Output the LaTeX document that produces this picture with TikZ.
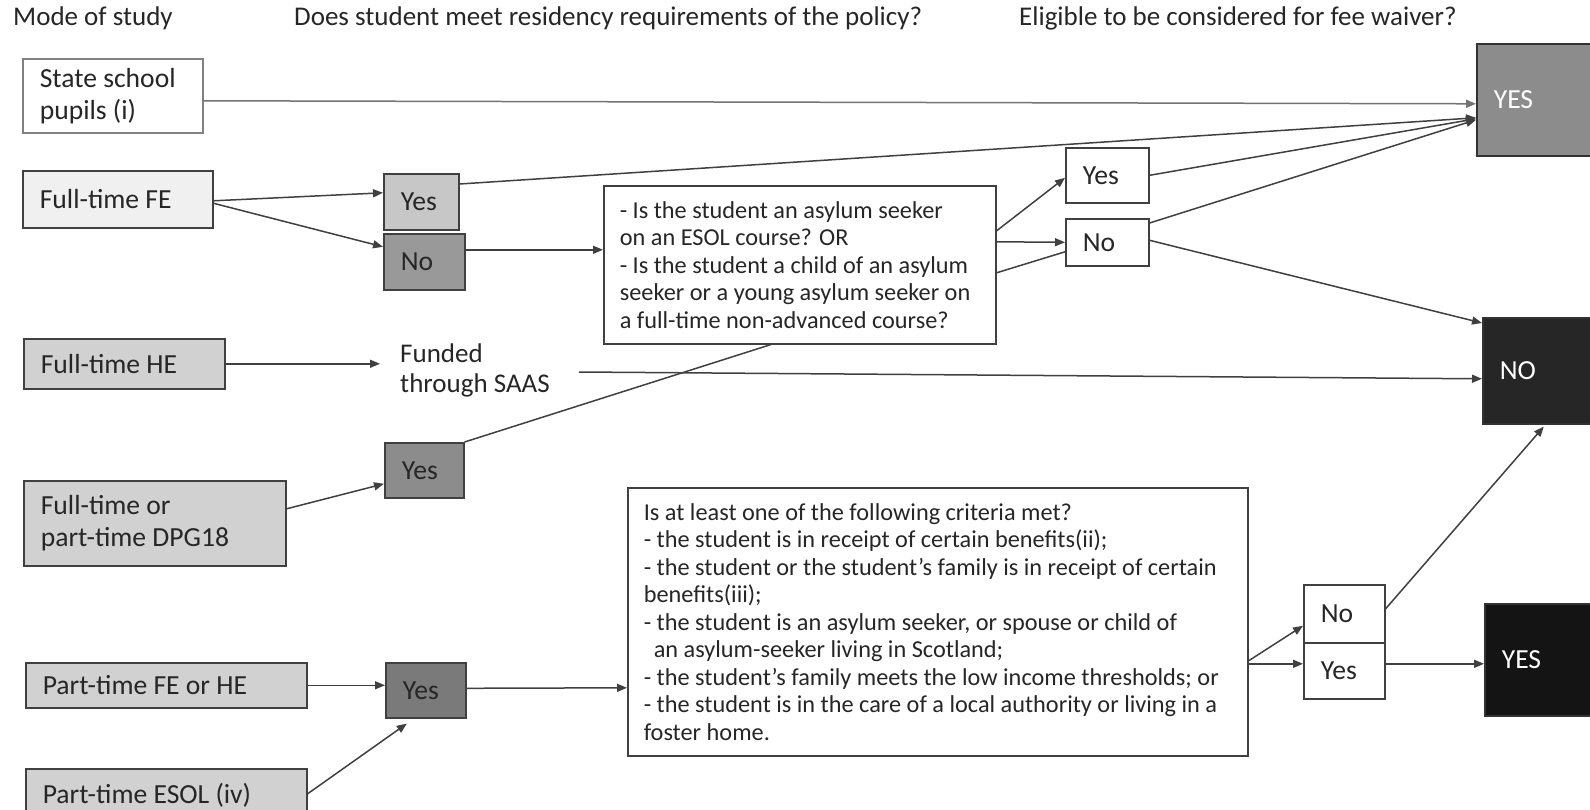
\documentclass[tikz,border=0pt]{standalone}
\usepackage{fontspec}
\setmainfont{Carlito}
\usetikzlibrary{calc,arrows.meta}
\newcommand{\qfnt}{\fontsize{24.3}{27.5}\selectfont}
\newcommand{\bfnt}{\fontsize{27.6}{32}\selectfont}
\newcommand{\hfnt}{\fontsize{27}{32}\selectfont}
\begin{document}
\begin{tikzpicture}[x=1pt,y=-1pt,
  every node/.style={text=black!85},
  bx/.style={draw=black!75, line width=1.6pt, anchor=north west, inner xsep=17pt, inner ysep=0pt, align=flush left, font=\bfnt},
  qbx/.style={bx, fill=white, inner xsep=16pt, font=\qfnt},
  dark/.style={bx, draw=black!80, text=white},
  hdr/.style={anchor=west, inner sep=0pt, font=\hfnt},
  ln/.style={draw=black!75, line width=1.5pt},
  arr/.style={ln, -{Triangle[length=10pt,width=8pt]}}
]
\useasboundingbox (0,0) rectangle (1590,810);
\clip (0,0) rectangle (1590,810);
\fill[white] (0,0) rectangle (1590,810);

% headers
\node[hdr] (h1) at (13,18) {Mode of study};
\node[hdr] (h2) at (294,18) {Does student meet residency requirements of the policy?};
\node[hdr] (h3) at (1019,18) {Eligible to be considered for fee waiver?};

% mode of study boxes
\node[bx, fill=white, draw=black!50, text width=146pt, minimum height=74pt] (ss) at (22,58) {State school\\pupils (i)};
\node[bx, fill=black!6, text width=156pt, minimum height=57pt] (ftfe) at (22,170) {Full-time FE};
\node[bx, fill=black!18, text width=167pt, minimum height=50pt] (fthe) at (23,338) {Full-time HE};
\node[bx, fill=black!18, text width=228pt, minimum height=85pt] (dpg) at (23,480) {Full-time or\\part-time DPG18};
\node[bx, fill=black!18, text width=247pt, minimum height=45pt] (ptfe) at (25,662) {Part-time FE or HE};
\node[bx, fill=black!18, text width=247pt, minimum height=54pt] (ptesol) at (25,768) {Part-time ESOL (iv)};

% residency column
\node[bx, fill=black!22, text width=41pt, minimum height=56pt] (yfe) at (383,173) {Yes};
\node[bx, fill=black!40, text width=47pt, minimum height=56pt] (nfe) at (383,233) {No};
\node[anchor=west, align=flush left, inner xsep=20pt, inner ysep=0pt, font=\fontsize{27}{30}\selectfont] (saas) at (380,370) {Funded\\through SAAS};
\node[bx, fill=black!45, text width=45pt, minimum height=55pt] (ydpg) at (384,442) {Yes};
\node[bx, fill=black!52, text width=46pt, minimum height=55pt] (ypt) at (385,662) {Yes};

% question boxes
\node[qbx, text width=360pt, minimum height=158pt] (q1) at (603,185)
 {- Is the student an asylum seeker\\on an ESOL course? OR\\- Is the student a child of an asylum\\seeker or a young asylum seeker on\\a full-time non-advanced course?};
\node[qbx, text width=588pt, minimum height=268pt] (q2) at (627,487)
 {Is at least one of the following criteria met?\\
  - the student is in receipt of certain benefits(ii);\\
  - the student or the student’s family is in receipt of certain\\
  benefits(iii);\\
  - the student is an asylum seeker, or spouse or child of\\
  \hspace*{10pt}an asylum-seeker living in Scotland;\\
  - the student’s family meets the low income thresholds; or\\
  - the student is in the care of a local authority or living in a\\
  foster home.};

% small answer boxes
\node[bx, fill=white, text width=49pt, minimum height=55pt] (ys) at (1065,147) {Yes};
\node[bx, fill=white, text width=49pt, minimum height=47pt] (ns) at (1065,218) {No};
\node[bx, fill=white, text width=47pt, minimum height=58pt] (nr) at (1303,584) {No};
\node[bx, fill=white, text width=47pt, minimum height=56pt] (yr) at (1303,642) {Yes};

% outcome boxes
\node[dark, fill=black!45, text width=96pt, minimum height=112pt] (Ytop) at (1476,43) {YES};
\node[dark, fill=black!85, text width=96pt, minimum height=106pt] (NO) at (1482,317) {NO};
\node[dark, fill=black!92, text width=96pt, minimum height=112pt] (Ybot) at (1484,603) {YES};

% connectors
\draw[arr, draw=black!55] ($(ss.east)+(0,5)$) -- ($(Ytop.west)+(0,4)$);
\draw[arr] ($(yfe.north east)+(0,11)$) -- ($(Ytop.west)+(0,18)$);
\draw[arr] (ys.east) -- ($(Ytop.west)+(0,19)$);
\draw[arr] ($(ns.north east)+(0,5)$) -- ($(Ytop.west)+(0,20)$);
\draw[arr] ($(ns.east)+(0,-2)$) -- ($(NO.north west)+(0,6)$);
\draw[arr] ($(ftfe.east)+(0,1.5)$) -- ($(yfe.west)+(0,-9)$);
\draw[arr] ($(ftfe.east)+(0,4)$) -- ($(nfe.west)+(0,-15)$);
\draw[arr] ($(nfe.east)+(0,-12)$) -- ($(q1.west)+(0,-15)$);
\draw[arr] ($(q1.east)+(0,-34)$) -- ($(ys.west)+(0,2.5)$);
\draw[arr] ($(q1.east)+(0,-23)$) -- (ns.west);
\draw[ln] ($(q1.east)+(0,8)$) -- ($(ns.west)+(0,9.5)$);
\draw[arr] (fthe.east) -- (fthe.east -| saas.west);
\draw[arr] ($(saas.east)+(9,2)$) -- ($(NO.west)+(0,8)$);
\draw[arr] ($(dpg.east)+(0,-14.5)$) -- ($(ydpg.west)+(0,13.5)$);
\draw[ln] (ydpg.north east) -- ($(q1.south)+(-29,0)$);
\draw[arr] (ptfe.east) -- (ptfe.east -| ypt.west);
\draw[arr] ($(ptesol.east)+(0,-2)$) -- ($(ypt.south)+(-19,5)$);
\draw[arr] ($(ypt.east)+(0,-2)$) -- ($(q2.west)+(0,66)$);
\draw[arr] ($(q2.east)+(0,39)$) -- ($(nr.west)+(0,12)$);
\draw[arr] ($(q2.east)+(0,42)$) -- ($(yr.west)+(0,-7)$);
\draw[arr] ($(nr.east)+(0,-5)$) -- ($(NO.south)+(-4,2)$);
\draw[arr] ($(yr.east)+(0,-7)$) -- ($(Ybot.west)+(0,4)$);
\end{tikzpicture}
\end{document}
